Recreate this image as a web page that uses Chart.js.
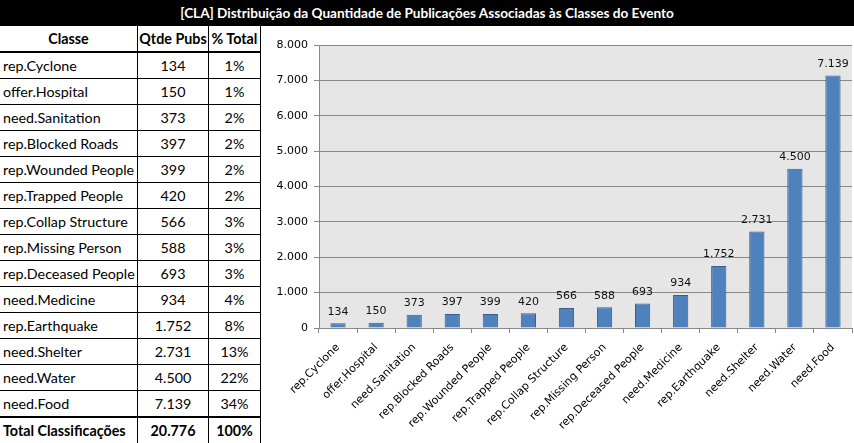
<!DOCTYPE html>
<html>
<head>
<meta charset="utf-8">
<script src="https://cdn.jsdelivr.net/npm/chart.js@4"></script>
<style>
  body { margin:0; width:854px; height:443px; background:#fff; position:relative; overflow:hidden; font-family:Lato, sans-serif; }
  #title { position:absolute; left:0; top:0; width:854px; height:26px; background:#000; color:#fff; font-weight:bold; font-size:13.6px; line-height:26px; text-align:center; }
  #tbl { position:absolute; left:0; top:26px; border-collapse:collapse; font-size:14.3px; }
  #tbl td, #tbl th { height:25px; padding:0; border:1px solid #000; }
  #tbl th { font-weight:bold; text-align:center; border-top:none; border-bottom:2px solid #000; }
  #tbl td:first-child, #tbl th:first-child { border-left:none; }
  #tbl td.c { padding-left:3px; text-align:left; }
  #tbl td.n { text-align:center; }
  #tbl tr.tot td { font-weight:bold; border-top:2px solid #000; border-bottom:2px solid #000; }
  #wrap { position:absolute; left:262px; top:27px; width:592px; height:416px; }
</style>
</head>
<body>
<div id="title">[CLA] Distribuição da Quantidade de Publicações Associadas às Classes do Evento</div>
<table id="tbl">
  <thead><tr><th style="width:137px">Classe</th><th style="width:70px">Qtde Pubs</th><th style="width:51px">% Total</th></tr></thead>
  <tbody id="rows"></tbody>
</table>
<div id="wrap"><canvas id="myChart" width="592" height="416"></canvas></div>
<script>
var classes = ["rep.Cyclone", "offer.Hospital", "need.Sanitation", "rep.Blocked Roads", "rep.Wounded People",
  "rep.Trapped People", "rep.Collap Structure", "rep.Missing Person", "rep.Deceased People", "need.Medicine",
  "rep.Earthquake", "need.Shelter", "need.Water", "need.Food"];
var pubs = [134, 150, 373, 397, 399, 420, 566, 588, 693, 934, 1752, 2731, 4500, 7139];
var pct = ["1%", "1%", "2%", "2%", "2%", "2%", "3%", "3%", "3%", "4%", "8%", "13%", "22%", "34%"];
var totalLabel = "Total Classificações";
var totalPubs = 20776;
var totalPct = "100%";
var yTicks = [0, 1000, 2000, 3000, 4000, 5000, 6000, 7000, 8000];

function fmt(v) { return v.toLocaleString("pt-BR"); }

// table
var html = "";
for (var i = 0; i < classes.length; i++) {
  html += "<tr><td class='c'>" + classes[i] + "</td><td class='n'>" + fmt(pubs[i]) + "</td><td class='n'>" + pct[i] + "</td></tr>";
}
html += "<tr class='tot'><td class='c'>" + totalLabel + "</td><td class='n'>" + fmt(totalPubs) + "</td><td class='n'>" + totalPct + "</td></tr>";
document.getElementById("rows").innerHTML = html;

var plotBg = {
  id: "plotBg",
  beforeDraw: function(chart) {
    var a = chart.chartArea, c = chart.ctx;
    c.save();
    c.fillStyle = "#e6e6e6";
    c.fillRect(a.left, a.top, a.right - a.left, a.bottom - a.top);
    c.restore();
  }
};

var valueLabels = {
  id: "valueLabels",
  afterDatasetsDraw: function(chart) {
    var c = chart.ctx;
    var meta = chart.getDatasetMeta(0);
    c.save();
    c.font = "11px 'DejaVu Sans'";
    c.fillStyle = "#111";
    c.textAlign = "center";
    c.textBaseline = "bottom";
    meta.data.forEach(function(bar, i) {
      c.fillText(fmt(pubs[i]), bar.x, bar.y - 6);
    });
    c.restore();
  }
};

Chart.defaults.font.family = "'DejaVu Sans'";
Chart.defaults.font.size = 11;
Chart.defaults.color = "#000";

var ctx = document.getElementById("myChart").getContext("2d");
var myChart = new Chart(ctx, {
  type: "bar",
  data: {
    labels: classes,
    datasets: [{
      data: pubs,
      backgroundColor: "#4f81bd",
      borderColor: "#385d8a",
      borderWidth: 1,
      barPercentage: 0.4,
      categoryPercentage: 1.0
    }]
  },
  options: {
    responsive: false,
    animation: false,
    devicePixelRatio: 1,
    layout: { padding: { top: 18, right: 2, left: 0, bottom: 0 } },
    plugins: { legend: { display: false }, tooltip: { enabled: false } },
    scales: {
      x: {
        grid: { drawOnChartArea: false, drawTicks: true, tickLength: 5, color: "#888", offset: true },
        border: { display: true, color: "#888" },
        ticks: { maxRotation: 45, minRotation: 45, autoSkip: false, padding: 8 },
        afterFit: function(scale) { scale.height = 115; }
      },
      y: {
        min: 0, max: 8000,
        afterBuildTicks: function(scale) { scale.ticks = yTicks.map(function(v) { return { value: v }; }); },
        grid: { color: "#888", tickLength: 5 },
        border: { display: true, color: "#888" },
        ticks: { padding: 6, callback: function(v) { return fmt(v); } },
        afterFit: function(scale) { scale.width = 57; }
      }
    }
  },
  plugins: [plotBg, valueLabels]
});
</script>
</body>
</html>
